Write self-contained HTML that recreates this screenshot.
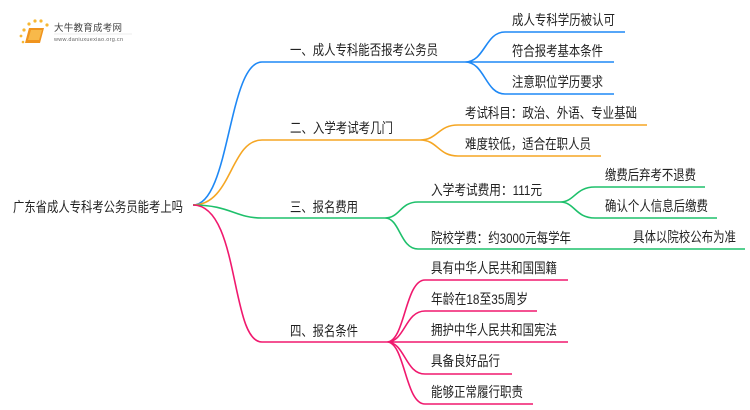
<!DOCTYPE html>
<html><head><meta charset="utf-8"><style>
html,body{margin:0;padding:0;background:#fff;}
svg{display:block;}
text{font-family:"Liberation Sans","Noto Sans CJK SC",sans-serif;font-size:14px;fill:#222;}
</style></head><body>
<svg width="750" height="410" viewBox="0 0 750 410" xmlns="http://www.w3.org/2000/svg">
<g>
<circle cx="24" cy="30" r="1.6" fill="#f7b733"/><circle cx="29" cy="24" r="1.6" fill="#f7b733"/><circle cx="35" cy="21" r="1.6" fill="#f7b733"/><circle cx="41" cy="21" r="1.6" fill="#f7b733"/><circle cx="47" cy="25" r="1.6" fill="#f7b733"/><circle cx="21" cy="36" r="1.4" fill="#f7b733"/><circle cx="23" cy="42" r="1.3" fill="#f7b733"/>
<path d="M29 28 L44 28 L40 43 L25 43 Z" fill="#f0941e"/>
<path d="M31 30 L42 30 L39 40 L28 40 Z" fill="#f8b94a"/>
<text x="54" y="31" style="font-size:9.5px;fill:#444" textLength="68">大牛教育成考网</text>
<text x="54" y="41" style="font-size:5.5px;fill:#666" textLength="69">www.daniuxuexiao.org.cn</text>
<line x1="54" y1="34" x2="132" y2="34" stroke="#ddd" stroke-width="0.6"/>
</g>
<g fill="none" stroke-width="1.6">
<path d="M193 205 C230 205 228 62 262 62 L465 62" stroke="#1e88f5"/>
<path d="M465 62 C485 62 485 32 505 32 L625 32 M465 62 L614 62 M465 62 C485 62 485 94 505 94 L614 94" stroke="#1e88f5"/>
<path d="M193 205 C232 205 230 140 262 140 L420 140" stroke="#f5a623"/>
<path d="M420 140 C438 140 438 125 458 125 L647 125 M420 140 C438 140 438 156 458 156 L601 156" stroke="#f5a623"/>
<path d="M193 205 C230 205 235 218 262 218 L385 218" stroke="#1ec06b"/>
<path d="M385 218 C400 218 400 202 418 202 L560 202 M385 218 C400 218 400 249 418 249 L745 249" stroke="#1ec06b"/>
<path d="M560 202 C575 202 575 187 595 187 L705 187 M560 202 C575 202 575 218 595 218 L717 218" stroke="#1ec06b"/>
<path d="M193 205 C240 205 230 342 262 342 L387 342" stroke="#f0196e"/>
<path d="M387 342 C405 342 405 280 425 280 L568 280 M387 342 C405 342 405 311 425 311 L537 311 M387 342 L568 342 M387 342 C405 342 405 374 425 374 L512 374 M387 342 C405 342 405 404 425 404 L533 404" stroke="#f0196e"/>
</g>
<text x="13" y="212" textLength="170" lengthAdjust="spacingAndGlyphs">广东省成人专科考公务员能考上吗</text>
<text x="290" y="55" textLength="148" lengthAdjust="spacingAndGlyphs">一、成人专科能否报考公务员</text>
<text x="290" y="133" textLength="103" lengthAdjust="spacingAndGlyphs">二、入学考试考几门</text>
<text x="290" y="212" textLength="68" lengthAdjust="spacingAndGlyphs">三、报名费用</text>
<text x="290" y="336" textLength="68" lengthAdjust="spacingAndGlyphs">四、报名条件</text>
<text x="512" y="25" textLength="103" lengthAdjust="spacingAndGlyphs">成人专科学历被认可</text>
<text x="512" y="56" textLength="91" lengthAdjust="spacingAndGlyphs">符合报考基本条件</text>
<text x="512" y="87" textLength="91" lengthAdjust="spacingAndGlyphs">注意职位学历要求</text>
<text x="465" y="118" textLength="172" lengthAdjust="spacingAndGlyphs">考试科目：政治、外语、专业基础</text>
<text x="465" y="149" textLength="126" lengthAdjust="spacingAndGlyphs">难度较低，适合在职人员</text>
<text x="431" y="195" textLength="111" lengthAdjust="spacingAndGlyphs">入学考试费用：111元</text>
<text x="431" y="243" textLength="140" lengthAdjust="spacingAndGlyphs">院校学费：约3000元每学年</text>
<text x="605" y="180" textLength="91" lengthAdjust="spacingAndGlyphs">缴费后弃考不退费</text>
<text x="605" y="211" textLength="103" lengthAdjust="spacingAndGlyphs">确认个人信息后缴费</text>
<text x="633" y="242" textLength="103" lengthAdjust="spacingAndGlyphs">具体以院校公布为准</text>
<text x="431" y="273" textLength="126" lengthAdjust="spacingAndGlyphs">具有中华人民共和国国籍</text>
<text x="431" y="304" textLength="97" lengthAdjust="spacingAndGlyphs">年龄在18至35周岁</text>
<text x="431" y="335" textLength="126" lengthAdjust="spacingAndGlyphs">拥护中华人民共和国宪法</text>
<text x="431" y="366" textLength="69" lengthAdjust="spacingAndGlyphs">具备良好品行</text>
<text x="431" y="397" textLength="92" lengthAdjust="spacingAndGlyphs">能够正常履行职责</text>
</svg>
</body></html>
